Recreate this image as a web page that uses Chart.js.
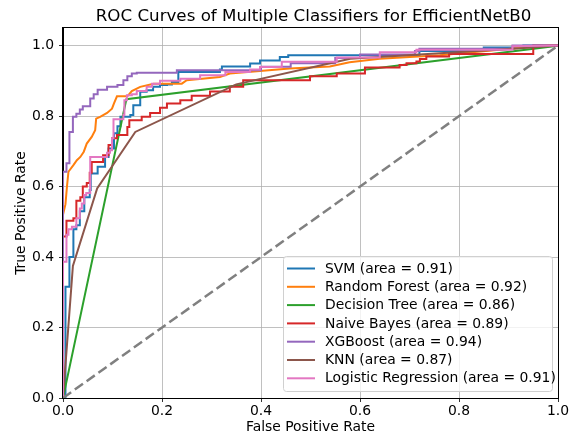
<!DOCTYPE html>
<html>
<head>
<meta charset="utf-8">
<script src="https://cdn.jsdelivr.net/npm/chart.js@4.4.1/dist/chart.umd.min.js"></script>
<style>
  html, body { margin: 0; padding: 0; background: #fff; }
  #wrap { width: 573px; height: 437px; position: relative; }
</style>
</head>
<body>
<div id="wrap"><canvas id="rocChart"></canvas></div>
<script>
const classifierNames = ['SVM', 'Random Forest', 'Decision Tree', 'Naive Bayes', 'XGBoost', 'KNN', 'Logistic Regression'];
const aucValues = [0.91, 0.92, 0.86, 0.89, 0.94, 0.87, 0.91];
const lineColors = ['#1f77b4', '#ff7f0e', '#2ca02c', '#d62728', '#9467bd', '#8c564b', '#e377c2'];
const tickValues = [0, 0.2, 0.4, 0.6, 0.8, 1.0];
const chartTitle = 'ROC Curves of Multiple Classifiers for EfficientNetB0';

const svmFpr = [0, 0.005, 0.005, 0.013, 0.013, 0.021, 0.021, 0.027, 0.027, 0.034, 0.034, 0.043, 0.043, 0.054, 0.054, 0.056, 0.056, 0.070, 0.070, 0.085, 0.085, 0.092, 0.092, 0.103, 0.103, 0.110, 0.110, 0.116, 0.116, 0.136, 0.136, 0.142, 0.142, 0.156, 0.156, 0.169, 0.169, 0.182, 0.182, 0.196, 0.196, 0.210, 0.210, 0.220, 0.220, 0.233, 0.233, 0.317, 0.317, 0.321, 0.321, 0.378, 0.378, 0.398, 0.398, 0.438, 0.438, 0.455, 0.455, 0.72, 0.72, 0.85, 0.85, 0.93, 0.93, 1];
const svmTpr = [0, 0, 0.316, 0.316, 0.40, 0.40, 0.479, 0.479, 0.49, 0.49, 0.53, 0.53, 0.57, 0.57, 0.59, 0.59, 0.637, 0.637, 0.656, 0.656, 0.684, 0.684, 0.708, 0.708, 0.751, 0.751, 0.771, 0.771, 0.798, 0.798, 0.803, 0.803, 0.831, 0.831, 0.869, 0.869, 0.873, 0.873, 0.883, 0.883, 0.888, 0.888, 0.890, 0.890, 0.897, 0.897, 0.925, 0.925, 0.932, 0.932, 0.941, 0.941, 0.949, 0.949, 0.958, 0.958, 0.968, 0.968, 0.973, 0.973, 0.985, 0.985, 0.995, 0.995, 1, 1];

const rfFpr = [0, 0, 0.005, 0.008, 0.011, 0.021, 0.028, 0.035, 0.042, 0.048, 0.058, 0.065, 0.067, 0.075, 0.089, 0.099, 0.103, 0.109, 0.130, 0.139, 0.156, 0.183, 0.240, 0.250, 0.317, 0.337, 0.398, 0.458, 0.539, 0.579, 0.64, 0.761, 0.909, 0.983, 1];
const rfTpr = [0, 0.52, 0.55, 0.60, 0.642, 0.661, 0.675, 0.684, 0.699, 0.722, 0.741, 0.760, 0.793, 0.798, 0.809, 0.821, 0.836, 0.856, 0.856, 0.871, 0.883, 0.892, 0.892, 0.902, 0.911, 0.921, 0.928, 0.935, 0.941, 0.953, 0.963, 0.973, 0.992, 1, 1];

const dtFpr = [0, 0.128, 1];
const dtTpr = [0, 0.848, 1];

const nbFpr = [0, 0, 0.007, 0.007, 0.021, 0.021, 0.027, 0.027, 0.035, 0.035, 0.040, 0.040, 0.048, 0.048, 0.054, 0.054, 0.058, 0.058, 0.081, 0.081, 0.092, 0.092, 0.099, 0.099, 0.109, 0.109, 0.130, 0.130, 0.134, 0.134, 0.159, 0.159, 0.176, 0.176, 0.196, 0.196, 0.210, 0.210, 0.237, 0.237, 0.260, 0.260, 0.297, 0.297, 0.337, 0.337, 0.364, 0.364, 0.499, 0.499, 0.553, 0.553, 0.610, 0.610, 0.680, 0.680, 0.694, 0.694, 0.714, 0.714, 0.721, 0.721, 0.734, 0.734, 0.78, 0.78, 0.95, 0.95, 1];
const nbTpr = [0, 0.458, 0.458, 0.503, 0.503, 0.51, 0.51, 0.56, 0.56, 0.57, 0.57, 0.60, 0.60, 0.61, 0.61, 0.639, 0.639, 0.670, 0.670, 0.689, 0.689, 0.718, 0.718, 0.737, 0.737, 0.746, 0.746, 0.769, 0.769, 0.788, 0.788, 0.798, 0.798, 0.809, 0.809, 0.824, 0.824, 0.836, 0.836, 0.845, 0.845, 0.858, 0.858, 0.870, 0.870, 0.883, 0.883, 0.902, 0.902, 0.913, 0.913, 0.921, 0.921, 0.938, 0.938, 0.945, 0.945, 0.950, 0.950, 0.955, 0.955, 0.962, 0.962, 0.969, 0.969, 0.976, 0.976, 1, 1];

const xgbFpr = [0, 0, 0.007, 0.007, 0.013, 0.013, 0.020, 0.020, 0.027, 0.027, 0.034, 0.034, 0.040, 0.040, 0.055, 0.055, 0.062, 0.062, 0.070, 0.070, 0.089, 0.089, 0.110, 0.110, 0.122, 0.122, 0.130, 0.130, 0.139, 0.139, 0.149, 0.149, 0.23, 0.23, 0.40, 0.40, 0.46, 0.46, 0.55, 0.55, 0.60, 0.60, 0.711, 0.711, 0.72, 0.72, 0.908, 0.908, 1];
const xgbTpr = [0, 0.642, 0.642, 0.666, 0.666, 0.755, 0.755, 0.798, 0.798, 0.807, 0.807, 0.819, 0.819, 0.828, 0.828, 0.850, 0.850, 0.862, 0.862, 0.875, 0.875, 0.883, 0.883, 0.888, 0.888, 0.902, 0.902, 0.913, 0.913, 0.921, 0.921, 0.923, 0.923, 0.93, 0.93, 0.94, 0.94, 0.95, 0.95, 0.965, 0.965, 0.975, 0.975, 0.985, 0.985, 0.991, 0.991, 1, 1];

const knnFpr = [0, 0.02, 0.069, 0.146, 0.35, 0.58, 0.91, 1];
const knnTpr = [0, 0.375, 0.595, 0.755, 0.89, 0.963, 0.991, 1];

const lrFpr = [0, 0, 0.007, 0.007, 0.011, 0.011, 0.018, 0.018, 0.027, 0.027, 0.034, 0.034, 0.038, 0.038, 0.043, 0.043, 0.047, 0.047, 0.055, 0.055, 0.089, 0.089, 0.095, 0.095, 0.099, 0.099, 0.102, 0.102, 0.122, 0.122, 0.124, 0.124, 0.129, 0.129, 0.139, 0.139, 0.149, 0.149, 0.169, 0.169, 0.180, 0.180, 0.196, 0.196, 0.237, 0.237, 0.277, 0.277, 0.328, 0.328, 0.378, 0.378, 0.398, 0.398, 0.442, 0.442, 0.553, 0.553, 0.640, 0.640, 0.714, 0.714, 0.908, 0.908, 1];
const lrTpr = [0, 0.387, 0.387, 0.463, 0.463, 0.479, 0.479, 0.486, 0.486, 0.51, 0.51, 0.538, 0.538, 0.552, 0.552, 0.576, 0.576, 0.582, 0.582, 0.684, 0.684, 0.696, 0.696, 0.703, 0.703, 0.737, 0.737, 0.791, 0.791, 0.803, 0.803, 0.845, 0.845, 0.859, 0.859, 0.862, 0.862, 0.871, 0.871, 0.883, 0.883, 0.892, 0.892, 0.900, 0.900, 0.906, 0.906, 0.916, 0.916, 0.925, 0.925, 0.932, 0.932, 0.939, 0.939, 0.954, 0.954, 0.966, 0.966, 0.981, 0.981, 0.988, 0.988, 0.998, 1];

const fprLists = [svmFpr, rfFpr, dtFpr, nbFpr, xgbFpr, knnFpr, lrFpr];
const tprLists = [svmTpr, rfTpr, dtTpr, nbTpr, xgbTpr, knnTpr, lrTpr];

function toPoints(xs, ys) {
  return xs.map((x, i) => ({ x: x, y: ys[i] }));
}

const datasets = classifierNames.map((name, i) => ({
  label: name + ' (area = ' + aucValues[i].toFixed(2) + ')',
  data: toPoints(fprLists[i], tprLists[i]),
  borderColor: lineColors[i],
  borderWidth: 2,
  pointRadius: 0,
  showLine: true,
  fill: false,
  tension: 0,
  order: -i
}));

// chance line
datasets.push({
  label: 'chance',
  data: toPoints([0, 1], [0, 1]),
  borderColor: '#808080',
  borderWidth: 2.5,
  borderDash: [10, 4.5],
  pointRadius: 0,
  showLine: true,
  fill: false,
  order: -10
});

const FONT = 'DejaVu Sans';
const FS = 13.9;

// black frame round the plot area (matplotlib spines) + title centred over the axes
const framePlugin = {
  id: 'frame',
  afterDatasetsDraw(chart) {
    const a = chart.chartArea;
    const c = chart.ctx;
    c.save();
    c.strokeStyle = '#000';
    c.lineWidth = 1;
    c.strokeRect(Math.round(a.left) - 0.5, Math.round(a.top) - 0.5, Math.round(a.right - a.left) + 1, Math.round(a.bottom - a.top) + 1);
    c.font = '16.7px "' + FONT + '"';
    c.fillStyle = '#000';
    c.textAlign = 'center';
    c.textBaseline = 'middle';
    c.fillText(chartTitle, (a.left + a.right) / 2 + 3, 16.5);
    c.restore();
  }
};

// legend box in the lower right corner
const boxLegend = {
  id: 'boxLegend',
  afterDraw(chart) {
    const c = chart.ctx;
    const left = 283, top = 256, w = 269, h = 135;
    c.save();
    c.fillStyle = 'rgba(255,255,255,0.8)';
    c.strokeStyle = '#d0d0d0';
    c.lineWidth = 1;
    c.beginPath();
    c.roundRect(left + 0.5, top + 0.5, w, h, 3);
    c.fill();
    c.stroke();
    c.font = FS + 'px "' + FONT + '"';
    c.textBaseline = 'middle';
    c.fillStyle = '#000';
    classifierNames.forEach((name, i) => {
      const y = 268.5 + i * 18.3;
      c.strokeStyle = lineColors[i];
      c.lineWidth = 2;
      c.beginPath();
      c.moveTo(287, y);
      c.lineTo(315, y);
      c.stroke();
      c.fillText(name + ' (area = ' + aucValues[i].toFixed(2) + ')', 325, y + 0.5);
    });
    c.restore();
  }
};

new Chart(document.getElementById('rocChart').getContext('2d'), {
  type: 'scatter',
  data: { datasets: datasets },
  options: {
    responsive: true,
    maintainAspectRatio: false,
    animation: false,
    layout: { padding: { left: 0, right: 15, top: 28, bottom: 0 } },
    plugins: {
      legend: { display: false },
      tooltip: { enabled: false },
      title: { display: false }
    },
    scales: {
      x: {
        type: 'linear',
        min: 0,
        max: 1,
        afterBuildTicks: s => { s.ticks = tickValues.map(v => ({ value: v })); },
        afterFit: s => { s.height = 39; },
        ticks: {
          color: '#000',
          font: { family: FONT, size: FS },
          padding: 1,
          maxRotation: 0,
          callback: v => Number(v).toFixed(1)
        },
        grid: { color: '#b0b0b0', lineWidth: 0.8, tickColor: '#000', tickLength: 4 },
        border: { color: '#000' },
        title: {
          display: true,
          text: 'False Positive Rate',
          color: '#000',
          font: { family: FONT, size: FS },
          padding: { top: 0, bottom: 1 }
        }
      },
      y: {
        type: 'linear',
        min: 0,
        max: 1.05,
        afterBuildTicks: s => { s.ticks = tickValues.map(v => ({ value: v })); },
        afterFit: s => { s.width = 63; },
        ticks: {
          color: '#000',
          font: { family: FONT, size: FS },
          padding: 5,
          callback: v => Number(v).toFixed(1)
        },
        grid: { color: '#b0b0b0', lineWidth: 0.8, tickColor: '#000', tickLength: 4 },
        border: { color: '#000' },
        title: {
          display: true,
          text: 'True Positive Rate',
          color: '#000',
          font: { family: FONT, size: FS },
          padding: { top: 13, bottom: 0 }
        }
      }
    }
  },
  plugins: [framePlugin, boxLegend]
});
</script>
</body>
</html>
